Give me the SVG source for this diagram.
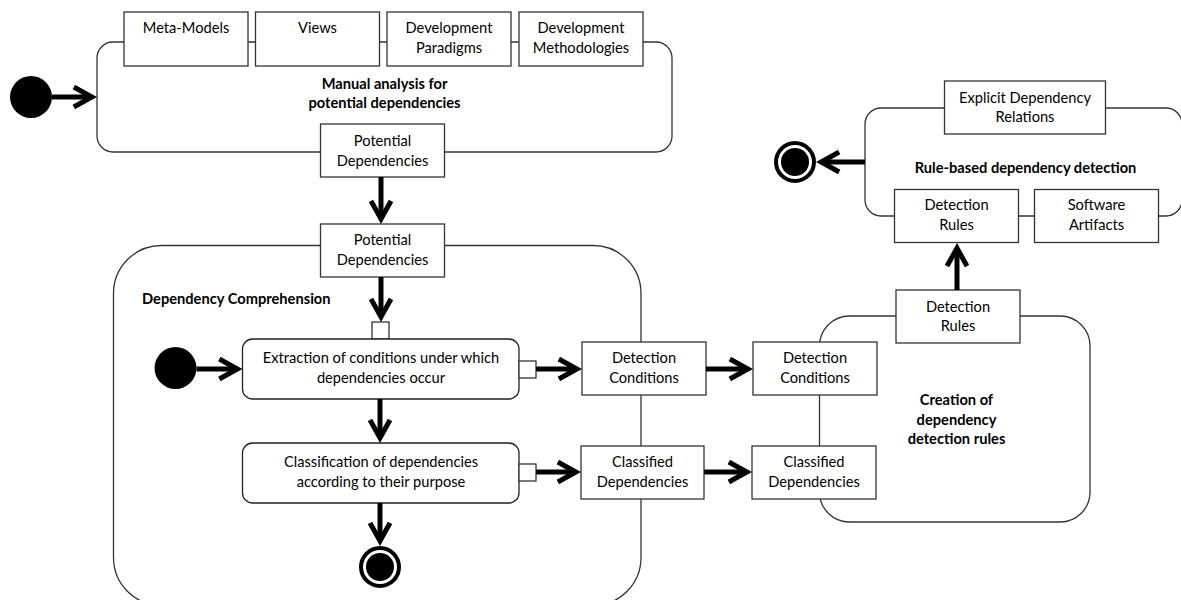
<svg xmlns="http://www.w3.org/2000/svg" width="1181" height="600" viewBox="0 0 1181 600">
  <style>
    text { font-family: Lato, "Liberation Sans", sans-serif; font-size: 14.67px; fill: #000; text-anchor: middle; }
    .title { font-weight: bold; }
    .left { text-anchor: start; }
    .region { fill: #fff; stroke: #333; stroke-width: 1.3; }
    .pin { fill: #fff; stroke: #333; stroke-width: 1.3; }
    .action { fill: #fff; stroke: #222; stroke-width: 1.3; }
    .flow { fill: none; stroke: #000; stroke-width: 5; marker-end: url(#chevron); }
    .start { fill: #000; }
    .final-ring { fill: #fff; stroke: #000; stroke-width: 4; }
    .final-dot { fill: #000; }
  </style>
  <defs>
    <!-- open chevron arrowhead; the flow line stops 6px short of its target -->
    <marker id="chevron" markerUnits="userSpaceOnUse" viewBox="-20 -12 30 24" markerWidth="30" markerHeight="24" refX="0" refY="0" orient="auto">
      <path d="M-17.15,-10 L0.85,0 L-17.15,10" fill="none" stroke="#000" stroke-width="5" stroke-linejoin="miter"/>
    </marker>
  </defs>
  <rect width="1181" height="600" fill="#fff"/>

  <!-- activity regions -->
  <g id="manual-analysis">
    <rect class="region" x="97" y="42" width="575" height="110" rx="16"/>
    <text class="title" x="384.5" y="89">Manual analysis for</text>
    <text class="title" x="384.5" y="108">potential dependencies</text>
  </g>
  <g id="dependency-comprehension">
    <rect class="region" x="113.5" y="245.5" width="527.5" height="360" rx="48"/>
    <text class="title left" x="142" y="304">Dependency Comprehension</text>
  </g>
  <g id="rule-creation">
    <rect class="region" x="819.5" y="316" width="270.5" height="206" rx="30"/>
    <text class="title" x="956.5" y="405">Creation of</text>
    <text class="title" x="956.5" y="425">dependency</text>
    <text class="title" x="956.5" y="444">detection rules</text>
  </g>
  <g id="rule-based-detection">
    <rect class="region" x="865" y="108" width="317" height="108" rx="16"/>
    <text class="title" x="1025.5" y="173">Rule-based dependency detection</text>
  </g>

  <!-- input pins of the manual analysis -->
  <g id="pin-meta-models">
    <rect class="pin" x="124" y="12" width="124" height="54"/>
    <text x="186" y="33">Meta-Models</text>
  </g>
  <g id="pin-views">
    <rect class="pin" x="255.5" y="12" width="124" height="54"/>
    <text x="317.5" y="33">Views</text>
  </g>
  <g id="pin-paradigms">
    <rect class="pin" x="387" y="12" width="124" height="54"/>
    <text x="449" y="33">Development</text>
    <text x="449" y="53">Paradigms</text>
  </g>
  <g id="pin-methodologies">
    <rect class="pin" x="519" y="12" width="124" height="54"/>
    <text x="581" y="33">Development</text>
    <text x="581" y="53">Methodologies</text>
  </g>
  <g id="pin-potential-out">
    <rect class="pin" x="320.5" y="124" width="124" height="53"/>
    <text x="382.5" y="145.5">Potential</text>
    <text x="382.5" y="165.5">Dependencies</text>
  </g>

  <!-- dependency comprehension contents -->
  <g id="pin-potential-in">
    <rect class="pin" x="320.5" y="224" width="124" height="53"/>
    <text x="382.5" y="245">Potential</text>
    <text x="382.5" y="265">Dependencies</text>
  </g>
  <g id="pin-extraction-in">
    <rect class="pin" x="372" y="322" width="17" height="17"/>
  </g>
  <g id="extraction">
    <rect class="action" x="242.5" y="339" width="276.5" height="60" rx="10"/>
    <text x="381" y="363">Extraction of conditions under which</text>
    <text x="381" y="383">dependencies occur</text>
  </g>
  <g id="pin-extraction-out">
    <rect class="pin" x="519" y="361" width="17" height="17"/>
  </g>
  <g id="classification">
    <rect class="action" x="242.5" y="443" width="276.5" height="60" rx="10"/>
    <text x="381" y="467">Classification of dependencies</text>
    <text x="381" y="487">according to their purpose</text>
  </g>
  <g id="pin-classification-out">
    <rect class="pin" x="519" y="464" width="17" height="17"/>
  </g>
  <g id="initial-comprehension">
    <circle class="start" cx="175.5" cy="368" r="21"/>
  </g>
  <g id="final-comprehension">
    <circle class="final-ring" cx="380" cy="567" r="19"/>
    <circle class="final-dot" cx="380" cy="567" r="14"/>
  </g>
  <g id="pin-conditions-out">
    <rect class="pin" x="582" y="342" width="124" height="53"/>
    <text x="644" y="363">Detection</text>
    <text x="644" y="383">Conditions</text>
  </g>
  <g id="pin-classified-out">
    <rect class="pin" x="581" y="446" width="123" height="53"/>
    <text x="642.5" y="467">Classified</text>
    <text x="642.5" y="487">Dependencies</text>
  </g>

  <!-- rule creation pins -->
  <g id="pin-conditions-in">
    <rect class="pin" x="753" y="342" width="124" height="53"/>
    <text x="815" y="363">Detection</text>
    <text x="815" y="383">Conditions</text>
  </g>
  <g id="pin-classified-in">
    <rect class="pin" x="752" y="446" width="124" height="53"/>
    <text x="814" y="467">Classified</text>
    <text x="814" y="487">Dependencies</text>
  </g>
  <g id="pin-rules-out">
    <rect class="pin" x="896" y="290" width="124" height="53"/>
    <text x="958" y="311.5">Detection</text>
    <text x="958" y="331">Rules</text>
  </g>

  <!-- rule-based detection pins -->
  <g id="pin-relations-out">
    <rect class="pin" x="944.5" y="81" width="161" height="53"/>
    <text x="1025" y="103">Explicit Dependency</text>
    <text x="1025" y="122">Relations</text>
  </g>
  <g id="pin-rules-in">
    <rect class="pin" x="894.5" y="189.5" width="124" height="53"/>
    <text x="956.5" y="210">Detection</text>
    <text x="956.5" y="230">Rules</text>
  </g>
  <g id="pin-artifacts-in">
    <rect class="pin" x="1034.5" y="189.5" width="124" height="53"/>
    <text x="1096.5" y="210">Software</text>
    <text x="1096.5" y="230">Artifacts</text>
  </g>

  <!-- top-level initial and final nodes -->
  <g id="initial-main">
    <circle class="start" cx="31" cy="97" r="21"/>
  </g>
  <g id="final-main">
    <circle class="final-ring" cx="795" cy="162" r="19"/>
    <circle class="final-dot" cx="795" cy="162" r="14"/>
  </g>

  <!-- control and object flows -->
  <g id="connectors">
    <line class="flow" x1="52" y1="97" x2="91" y2="97"/>
    <line class="flow" x1="381" y1="177" x2="381" y2="218"/>
    <line class="flow" x1="381" y1="277" x2="381" y2="316"/>
    <line class="flow" x1="196.5" y1="369" x2="236.5" y2="369"/>
    <line class="flow" x1="536" y1="369" x2="576" y2="369"/>
    <line class="flow" x1="380" y1="399" x2="380" y2="437"/>
    <line class="flow" x1="536" y1="472" x2="575" y2="472"/>
    <line class="flow" x1="380" y1="503" x2="380" y2="540"/>
    <line class="flow" x1="706" y1="369" x2="747" y2="369"/>
    <line class="flow" x1="704" y1="472" x2="746" y2="472"/>
    <line class="flow" x1="957" y1="290" x2="957" y2="249"/>
    <line class="flow" x1="865" y1="162" x2="822" y2="162"/>
  </g>
</svg>
